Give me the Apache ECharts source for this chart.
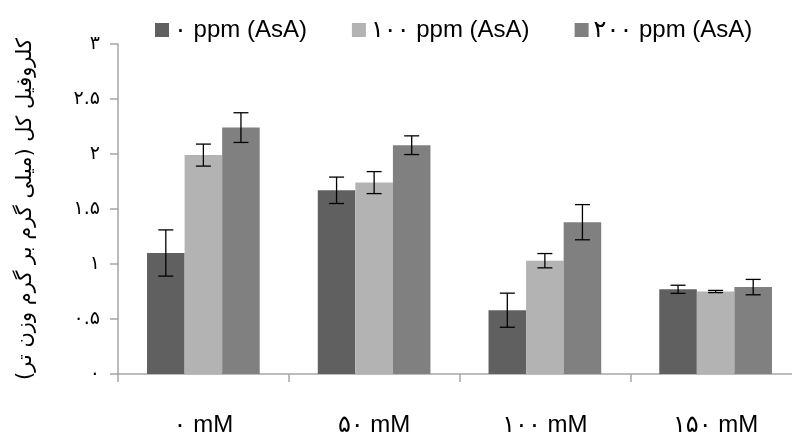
<!DOCTYPE html>
<html>
<head>
<meta charset="utf-8">
<script src="https://cdn.jsdelivr.net/npm/echarts@6/dist/echarts.min.js"></script>
<style>html,body{margin:0;padding:0;background:#fff;overflow:hidden;}#c{width:801px;height:438px;}</style>
</head>
<body>
<div id="c"></div>
<script>
var categories = ['۰ mM', '۵۰ mM', '۱۰۰ mM', '۱۵۰ mM'];
var seriesNames = ['۰ ppm (AsA)', '۱۰۰ ppm (AsA)', '۲۰۰ ppm (AsA)'];
var values0 = [1.10, 1.67, 0.58, 0.77];
var values100 = [1.99, 1.74, 1.03, 0.75];
var values200 = [2.24, 2.08, 1.38, 0.79];
var err0 = [0.21, 0.12, 0.155, 0.037];
var err100 = [0.10, 0.10, 0.065, 0.01];
var err200 = [0.135, 0.085, 0.16, 0.07];
var yTickLabels = ['۰', '۰.۵', '۱', '۱.۵', '۲', '۲.۵', '۳'];
var yAxisTitle = 'کلروفیل کل (میلی گرم بر گرم وزن تر)';

var colors = ['#606060', '#b3b3b3', '#808080'];
var GAP = 0.34;
var LATIN = 'Liberation Sans, Arial, DejaVu Sans, sans-serif';

var chart = echarts.init(document.getElementById('c'), null, {renderer: 'canvas'});

function errSeries(idx, vals, errs) {
  return {
    type: 'custom',
    name: 'err' + idx,
    z: 10,
    data: vals.map(function (v, i) { return [i, v, errs[i]]; }),
    renderItem: function (params, api) {
      var x = api.value(0), v = api.value(1), e = api.value(2);
      var band = api.size([1, 0])[0];
      var bw = band * (1 - GAP) / 3;
      var c = api.coord([x, v]);
      var cx = c[0] + (idx - 1) * bw;
      var top = api.coord([x, v + e])[1];
      var bot = api.coord([x, v - e])[1];
      var hw = 7.5;
      var st = {stroke: '#000', lineWidth: 1.3};
      return {type: 'group', children: [
        {type: 'line', shape: {x1: cx, y1: top, x2: cx, y2: bot}, style: st},
        {type: 'line', shape: {x1: cx - hw, y1: top, x2: cx + hw, y2: top}, style: st},
        {type: 'line', shape: {x1: cx - hw, y1: bot, x2: cx + hw, y2: bot}, style: st}
      ]};
    }
  };
}

var allVals = [values0, values100, values200];
var allErrs = [err0, err100, err200];
var series = [];
allVals.forEach(function (vals, i) {
  series.push({
    type: 'bar',
    name: seriesNames[i],
    data: vals,
    barGap: '0%',
    barCategoryGap: (GAP * 100) + '%',
    itemStyle: {color: colors[i]}
  });
});
allVals.forEach(function (vals, i) { series.push(errSeries(i, vals, allErrs[i])); });

chart.setOption({
  animation: false,
  backgroundColor: '#fff',
  legend: {
    data: seriesNames,
    top: 13,
    left: 150,
    itemWidth: 14,
    itemHeight: 14,
    itemGap: 45,
    icon: 'rect',
    textStyle: {fontSize: 24, color: '#000', fontFamily: LATIN}
  },
  grid: {left: 118, right: 0, top: 44, bottom: 64, containLabel: false},
  xAxis: {
    type: 'category',
    data: categories,
    axisLine: {lineStyle: {color: '#a6a6a6', width: 1.5}},
    axisTick: {show: true, length: 8, lineStyle: {color: '#a6a6a6', width: 1.5}},
    axisLabel: {fontSize: 24, color: '#000', margin: 39, fontFamily: LATIN}
  },
  yAxis: {
    type: 'value',
    min: 0, max: 3, interval: 0.5,
    name: yAxisTitle,
    nameLocation: 'middle',
    nameRotate: 90,
    nameGap: 82,
    nameTextStyle: {fontSize: 21, color: '#000', fontFamily: 'DejaVu Sans'},
    axisLine: {show: true, lineStyle: {color: '#a6a6a6', width: 1.5}},
    axisTick: {show: true, length: 8, lineStyle: {color: '#a6a6a6', width: 1.5}},
    splitLine: {show: false},
    axisLabel: {
      fontSize: 19, color: '#000', margin: 18, fontFamily: 'DejaVu Sans',
      formatter: function (v, i) { return yTickLabels[Math.round(v / 0.5)]; }
    }
  },
  series: series
});
</script>
</body>
</html>
